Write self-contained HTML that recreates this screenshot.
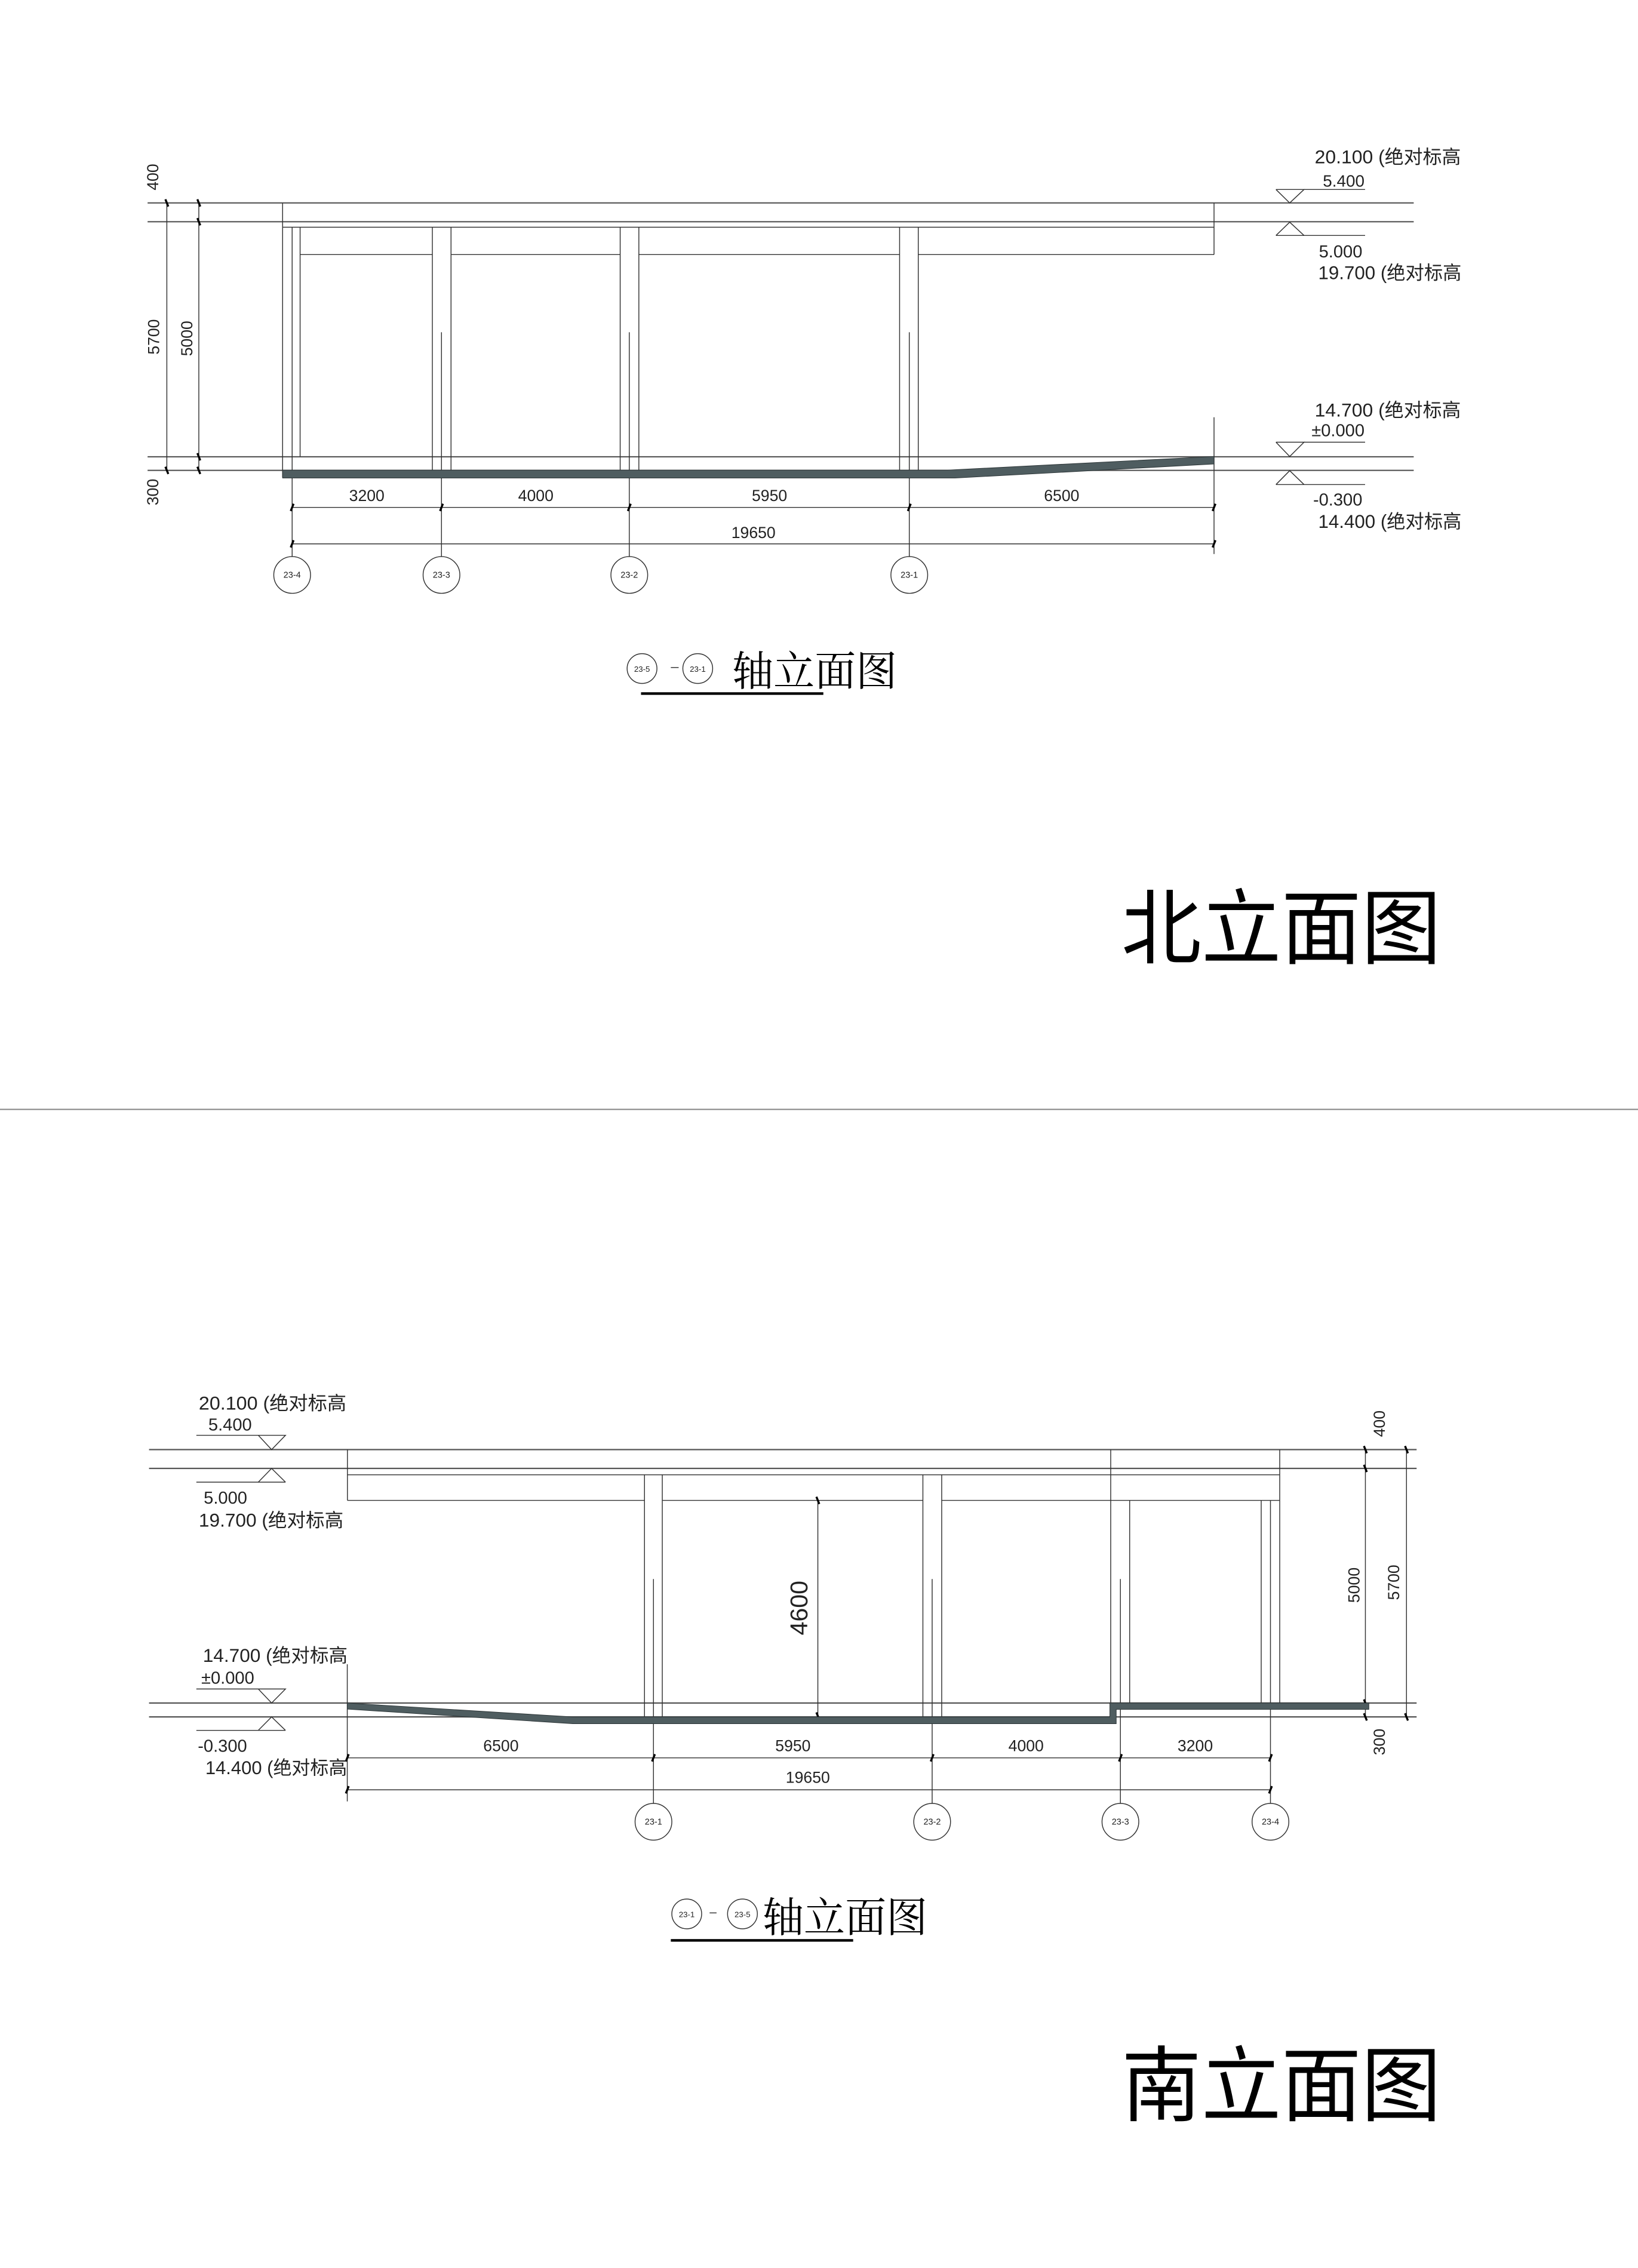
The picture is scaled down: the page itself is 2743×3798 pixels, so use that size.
<!DOCTYPE html>
<html><head><meta charset="utf-8"><style>
html,body{margin:0;padding:0;background:#fff;}
svg{display:block;}
text{font-family:"Liberation Sans","Noto Sans CJK SC",sans-serif;fill:#222;}
.cj{font-family:"Liberation Sans","Noto Serif CJK SC","Noto Sans CJK SC",serif;fill:#000;}
</style></head><body>
<svg width="2743" height="3798" viewBox="0 0 1132 1568" preserveAspectRatio="none" xmlns="http://www.w3.org/2000/svg">
<rect width="1132" height="1568" fill="#fff"/>
<g stroke="#333" stroke-width="0.6" fill="none">
<g stroke="#555" stroke-width="0.9">
<line x1="102" y1="140.3" x2="977" y2="140.3"/>
<line x1="102" y1="153.3" x2="977" y2="153.3"/>
<line x1="102" y1="315.8" x2="977" y2="315.8"/>
<line x1="102" y1="325.2" x2="977" y2="325.2"/>
</g>
<line x1="115.3" y1="140.3" x2="115.3" y2="325.2"/>
<line x1="137.4" y1="140.3" x2="137.4" y2="325.2"/>
<line x1="195.3" y1="140.3" x2="195.3" y2="330"/>
<line x1="839" y1="140.3" x2="839" y2="176"/>
<line x1="195.3" y1="157.1" x2="839" y2="157.1"/>
<line x1="207.4" y1="176" x2="298.8" y2="176"/>
<line x1="311.7" y1="176" x2="428.6" y2="176"/>
<line x1="441.5" y1="176" x2="621.7" y2="176"/>
<line x1="634.6" y1="176" x2="839" y2="176"/>
<line x1="201.9" y1="157.1" x2="201.9" y2="384.8"/>
<line x1="207.4" y1="157.1" x2="207.4" y2="315.8"/>
<line x1="298.8" y1="157.1" x2="298.8" y2="325.2"/>
<line x1="311.7" y1="157.1" x2="311.7" y2="325.2"/>
<line x1="428.6" y1="157.1" x2="428.6" y2="325.2"/>
<line x1="441.5" y1="157.1" x2="441.5" y2="325.2"/>
<line x1="621.7" y1="157.1" x2="621.7" y2="325.2"/>
<line x1="634.6" y1="157.1" x2="634.6" y2="325.2"/>
<line x1="305.1" y1="229.7" x2="305.1" y2="384.8"/>
<line x1="434.9" y1="229.7" x2="434.9" y2="384.8"/>
<line x1="628.4" y1="229.7" x2="628.4" y2="384.8"/>
<line x1="839" y1="288.5" x2="839" y2="383"/>
<line x1="201.9" y1="350.8" x2="839" y2="350.8"/>
<line x1="201.9" y1="376" x2="839" y2="376"/>
<circle cx="201.9" cy="397.5" r="12.7"/>
<circle cx="305.1" cy="397.5" r="12.7"/>
<circle cx="434.9" cy="397.5" r="12.7"/>
<circle cx="628.4" cy="397.5" r="12.7"/>
<polyline points="881.8,131 891.3,140.3 901.2,131 881.8,131"/>
<line x1="901.2" y1="131" x2="943.4" y2="131"/>
<polyline points="881.8,162.8 891.3,153.6 901.2,162.8"/>
<line x1="881.8" y1="162.8" x2="943.4" y2="162.8"/>
<polyline points="881.8,305.7 891.3,315.6 901.2,305.7 881.8,305.7"/>
<line x1="901.2" y1="305.7" x2="943.4" y2="305.7"/>
<polyline points="881.8,335 891.3,325.4 901.2,335"/>
<line x1="881.8" y1="335" x2="943.4" y2="335"/>

<g stroke="#555" stroke-width="0.9">
<line x1="103" y1="1002.2" x2="979" y2="1002.2"/>
<line x1="103" y1="1015.2" x2="979" y2="1015.2"/>
<line x1="103" y1="1177.4" x2="979" y2="1177.4"/>
<line x1="103" y1="1187" x2="979" y2="1187"/>
</g>
<line x1="240.1" y1="1002.2" x2="240.1" y2="1037.3"/>
<line x1="240.1" y1="1019.6" x2="884.4" y2="1019.6"/>
<line x1="240.1" y1="1037.3" x2="445.4" y2="1037.3"/>
<line x1="457.7" y1="1037.3" x2="637.8" y2="1037.3"/>
<line x1="650.8" y1="1037.3" x2="884.4" y2="1037.3"/>
<line x1="767.6" y1="1002.2" x2="767.6" y2="1187"/>
<line x1="780.7" y1="1037.3" x2="780.7" y2="1177.4"/>
<line x1="774.3" y1="1091.7" x2="774.3" y2="1246.8"/>
<line x1="884.4" y1="1002.2" x2="884.4" y2="1177.4"/>
<line x1="871.6" y1="1037.3" x2="871.6" y2="1177.4"/>
<line x1="878" y1="1037.3" x2="878" y2="1246.8"/>
<line x1="445.4" y1="1019.6" x2="445.4" y2="1187"/>
<line x1="457.7" y1="1019.6" x2="457.7" y2="1187"/>
<line x1="451.6" y1="1091.7" x2="451.6" y2="1246.8"/>
<line x1="637.8" y1="1019.6" x2="637.8" y2="1187"/>
<line x1="650.8" y1="1019.6" x2="650.8" y2="1187"/>
<line x1="644.2" y1="1091.7" x2="644.2" y2="1246.8"/>
<line x1="565.2" y1="1037.3" x2="565.2" y2="1186.4"/>
<line x1="240" y1="1150.6" x2="240" y2="1245.4"/>
<line x1="240" y1="1215.3" x2="878" y2="1215.3"/>
<line x1="240" y1="1237.4" x2="878" y2="1237.4"/>
<line x1="943.6" y1="1002.2" x2="943.6" y2="1187"/>
<line x1="972" y1="1002.2" x2="972" y2="1187"/>
<circle cx="451.6" cy="1259.5" r="12.7"/>
<circle cx="644.2" cy="1259.5" r="12.7"/>
<circle cx="774.3" cy="1259.5" r="12.7"/>
<circle cx="878" cy="1259.5" r="12.7"/>
<polyline points="178.5,992.3 187.7,1002.2 197.3,992.3 178.5,992.3"/>
<line x1="135.7" y1="992.3" x2="178.5" y2="992.3"/>
<polyline points="178.5,1024.7 187.7,1015.2 197.3,1024.7"/>
<line x1="135.7" y1="1024.7" x2="197.3" y2="1024.7"/>
<polyline points="178.5,1167.7 187.7,1177.4 197.3,1167.7 178.5,1167.7"/>
<line x1="135.7" y1="1167.7" x2="178.5" y2="1167.7"/>
<polyline points="178.5,1196.3 187.7,1187 197.3,1196.3"/>
<line x1="135.7" y1="1196.3" x2="197.3" y2="1196.3"/>

<circle cx="443.7" cy="462.2" r="10.3"/>
<circle cx="482.2" cy="462.2" r="10.3"/>
<line x1="463.6" y1="461.5" x2="469" y2="461.5"/>
<circle cx="474.6" cy="1323.2" r="10.3"/>
<circle cx="513.1" cy="1323.2" r="10.3"/>
<line x1="490.4" y1="1322.5" x2="495.2" y2="1322.5"/>
</g>

<g stroke="#000" stroke-width="1.4">
<path d="M114.3 137.8L116.3 142.8M114.3 322.7L116.3 327.7M136.4 137.8L138.4 142.8M136.4 150.8L138.4 155.8M136.4 313.3L138.4 318.3M136.4 322.7L138.4 327.7"/>
<path d="M200.9 353.3L202.9 348.3M304.1 353.3L306.1 348.3M433.9 353.3L435.9 348.3M627.4 353.3L629.4 348.3M838 353.3L840 348.3M200.9 378.5L202.9 373.5M838 378.5L840 373.5"/>
<path d="M239 1217.8L241 1212.8M450.6 1217.8L452.6 1212.8M643.2 1217.8L645.2 1212.8M773.3 1217.8L775.3 1212.8M877 1217.8L879 1212.8M239 1239.9L241 1234.9M877 1239.9L879 1234.9"/>
<path d="M942.6 999.7L944.6 1004.7M942.6 1012.7L944.6 1017.7M942.6 1174.9L944.6 1179.9M942.6 1184.5L944.6 1189.5M971 999.7L973 1004.7M971 1184.5L973 1189.5"/>
<path d="M564.2 1034.8L566.2 1039.8M564.2 1183.9L566.2 1188.9"/>
</g>

<polygon points="195.3,325 655,325 839,315.6 839,320.8 660,330.5 195.3,330.5" fill="#4f5d60" stroke="#2a3335" stroke-width="0.4"/>
<polygon points="240,1177.4 395.8,1187 767,1187 767,1177.4 946,1177.4 946,1181.8 771.4,1181.8 771.4,1191.7 395.8,1191.7 240,1181.6" fill="#4f5d60" stroke="#2a3335" stroke-width="0.4"/>

<rect x="443" y="478.6" width="126" height="1.8" fill="#000"/>
<rect x="463.6" y="1340.6" width="126" height="1.8" fill="#000"/>
<rect x="0" y="766.5" width="1132" height="1" fill="#999"/>

<g font-size="11" text-anchor="middle">
<text x="253.5" y="346.3">3200</text>
<text x="370.3" y="346.3">4000</text>
<text x="531.8" y="346.3">5950</text>
<text x="733.7" y="346.3">6500</text>
<text x="520.7" y="372">19650</text>
<text transform="translate(109.3,122.4) rotate(-90)">400</text>
<text transform="translate(110,232.9) rotate(-90)">5700</text>
<text transform="translate(132.9,234) rotate(-90)">5000</text>
<text transform="translate(109.3,340.2) rotate(-90)">300</text>
<text x="346.2" y="1210.6">6500</text>
<text x="548" y="1210.6">5950</text>
<text x="709.1" y="1210.6">4000</text>
<text x="826" y="1210.6">3200</text>
<text x="558.3" y="1232.5">19650</text>
<text transform="translate(957,984.3) rotate(-90)">400</text>
<text transform="translate(939.4,1095.9) rotate(-90)">5000</text>
<text transform="translate(967,1094) rotate(-90)">5700</text>
<text transform="translate(957,1204.3) rotate(-90)">300</text>
</g>
<text transform="translate(558,1111.7) rotate(-90)" font-size="17" text-anchor="middle">4600</text>

<g font-size="6" text-anchor="middle">
<text x="201.9" y="399.5">23-4</text>
<text x="305.1" y="399.5">23-3</text>
<text x="434.9" y="399.5">23-2</text>
<text x="628.4" y="399.5">23-1</text>
<text x="451.6" y="1261.5">23-1</text>
<text x="644.2" y="1261.5">23-2</text>
<text x="774.3" y="1261.5">23-3</text>
<text x="878" y="1261.5">23-4</text>
<text x="443.7" y="464.4" font-size="5.5">23-5</text>
<text x="482.2" y="464.4" font-size="5.5">23-1</text>
<text x="474.6" y="1325.4" font-size="5.5">23-1</text>
<text x="513.1" y="1325.4" font-size="5.5">23-5</text>
</g>

<g font-size="13">
<text x="908.6" y="113" textLength="101" lengthAdjust="spacingAndGlyphs">20.100 (绝对标高</text>
<text x="943" y="129" text-anchor="end" font-size="11.5">5.400</text>
<text x="941.5" y="178" text-anchor="end" font-size="12">5.000</text>
<text x="911" y="193" textLength="99" lengthAdjust="spacingAndGlyphs">19.700 (绝对标高</text>
<text x="908.6" y="288" textLength="101" lengthAdjust="spacingAndGlyphs">14.700 (绝对标高</text>
<text x="943" y="301.5" text-anchor="end" font-size="12">±0.000</text>
<text x="941.5" y="349.5" text-anchor="end" font-size="12">-0.300</text>
<text x="911" y="365" textLength="99" lengthAdjust="spacingAndGlyphs">14.400 (绝对标高</text>

<text x="137.4" y="974.5" textLength="102" lengthAdjust="spacingAndGlyphs">20.100 (绝对标高</text>
<text x="144" y="989" font-size="12">5.400</text>
<text x="140.8" y="1039.6" font-size="12">5.000</text>
<text x="137.4" y="1055.5" textLength="100" lengthAdjust="spacingAndGlyphs">19.700 (绝对标高</text>
<text x="140.2" y="1149" textLength="100" lengthAdjust="spacingAndGlyphs">14.700 (绝对标高</text>
<text x="139.1" y="1164" font-size="12">±0.000</text>
<text x="136.7" y="1211" font-size="12">-0.300</text>
<text x="141.9" y="1226.5" textLength="98" lengthAdjust="spacingAndGlyphs">14.400 (绝对标高</text>
</g>

<text class="cj" x="506" y="474" font-size="28.5" textLength="114" lengthAdjust="spacingAndGlyphs">轴立面图</text>
<text class="cj" x="527" y="1335.5" font-size="28.5" textLength="114" lengthAdjust="spacingAndGlyphs">轴立面图</text>
<text class="cj" x="775" y="662" font-size="57" textLength="221" lengthAdjust="spacingAndGlyphs" style="font-family:'Noto Sans CJK SC',sans-serif;font-weight:normal">北立面图</text>
<text class="cj" x="775" y="1462" font-size="57" textLength="221" lengthAdjust="spacingAndGlyphs" style="font-family:'Noto Sans CJK SC',sans-serif;font-weight:normal">南立面图</text>
</svg>
</body></html>
